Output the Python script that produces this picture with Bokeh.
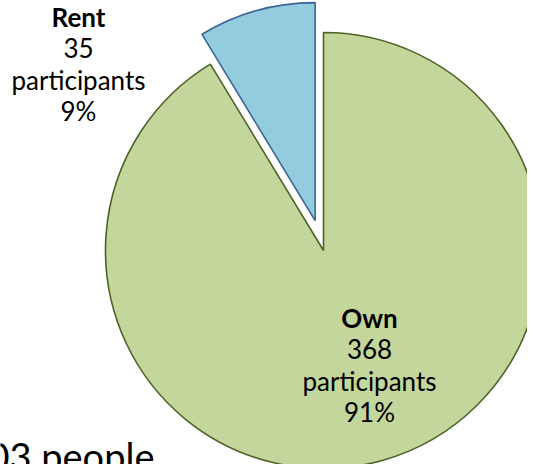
import numpy as np
from bokeh.plotting import figure
from bokeh.models import Range1d
from bokeh.core.properties import value
from bokeh.embed import file_html
from bokeh.resources import INLINE

# ---- data ----
categories = ["Own", "Rent"]
counts = [368, 35]
unit = "participants"
fill_colors = ["#C3D69B", "#93CDDD"]
line_colors = ["#4F6228", "#3A6596"]
footer = "403 people"

FONT = "Lato"
W, H = 527, 464
p = figure(width=W, height=H, output_backend="svg", toolbar_location=None,
           x_range=Range1d(0, W), y_range=Range1d(-H, 0), min_border=0,
           x_axis_location=None, y_axis_location=None)
p.grid.visible = False
p.outline_line_color = None
p.background_fill_color = "white"

total = sum(counts)
fracs = np.array(counts) / total
cx, cy, r, explode = 323.0, -250.0, 218.0, 31.0

# Rent starts at 12 o'clock and runs anticlockwise; Own fills the rest
rent_start = np.pi / 2
rent_end = rent_start + fracs[1] * 2 * np.pi
own_start = rent_end
own_end = np.pi / 2 + 2 * np.pi

p.wedge(x=cx, y=cy, radius=r, start_angle=own_start, end_angle=own_end,
        direction="anticlock", fill_color=fill_colors[0], line_color=line_colors[0],
        line_width=1.6)
mid = (rent_start + rent_end) / 2
rx, ry = cx + explode * np.cos(mid), cy + explode * np.sin(mid)
p.wedge(x=rx, y=ry, radius=r, start_angle=rent_start, end_angle=rent_end,
        direction="anticlock", fill_color=fill_colors[1], line_color=line_colors[1],
        line_width=1.6)

def label(x, y, i, size="26px", step=31.5):
    pct = f"{round(fracs[i]*100)}%"
    p.text(x=[x], y=[y], text=[categories[i]], text_font=value(FONT),
           text_font_size=size, text_font_style="bold", text_align="center",
           text_baseline="middle", text_color="#000000")
    lines = [str(counts[i]), unit, pct]
    p.text(x=[x]*3, y=[y - step*(k+1) for k in range(3)], text=lines,
           text_font=value(FONT), text_font_size=size, text_align="center",
           text_baseline="middle", text_color="#000000")

label(78, -16, 1)
label(369, -317, 0)

p.text(x=[154], y=[-455], text=[footer], text_font=value(FONT),
       text_font_size="38px", text_align="right", text_baseline="middle",
       text_color="#000000")

open("out.html", "w").write(file_html(p, INLINE))
